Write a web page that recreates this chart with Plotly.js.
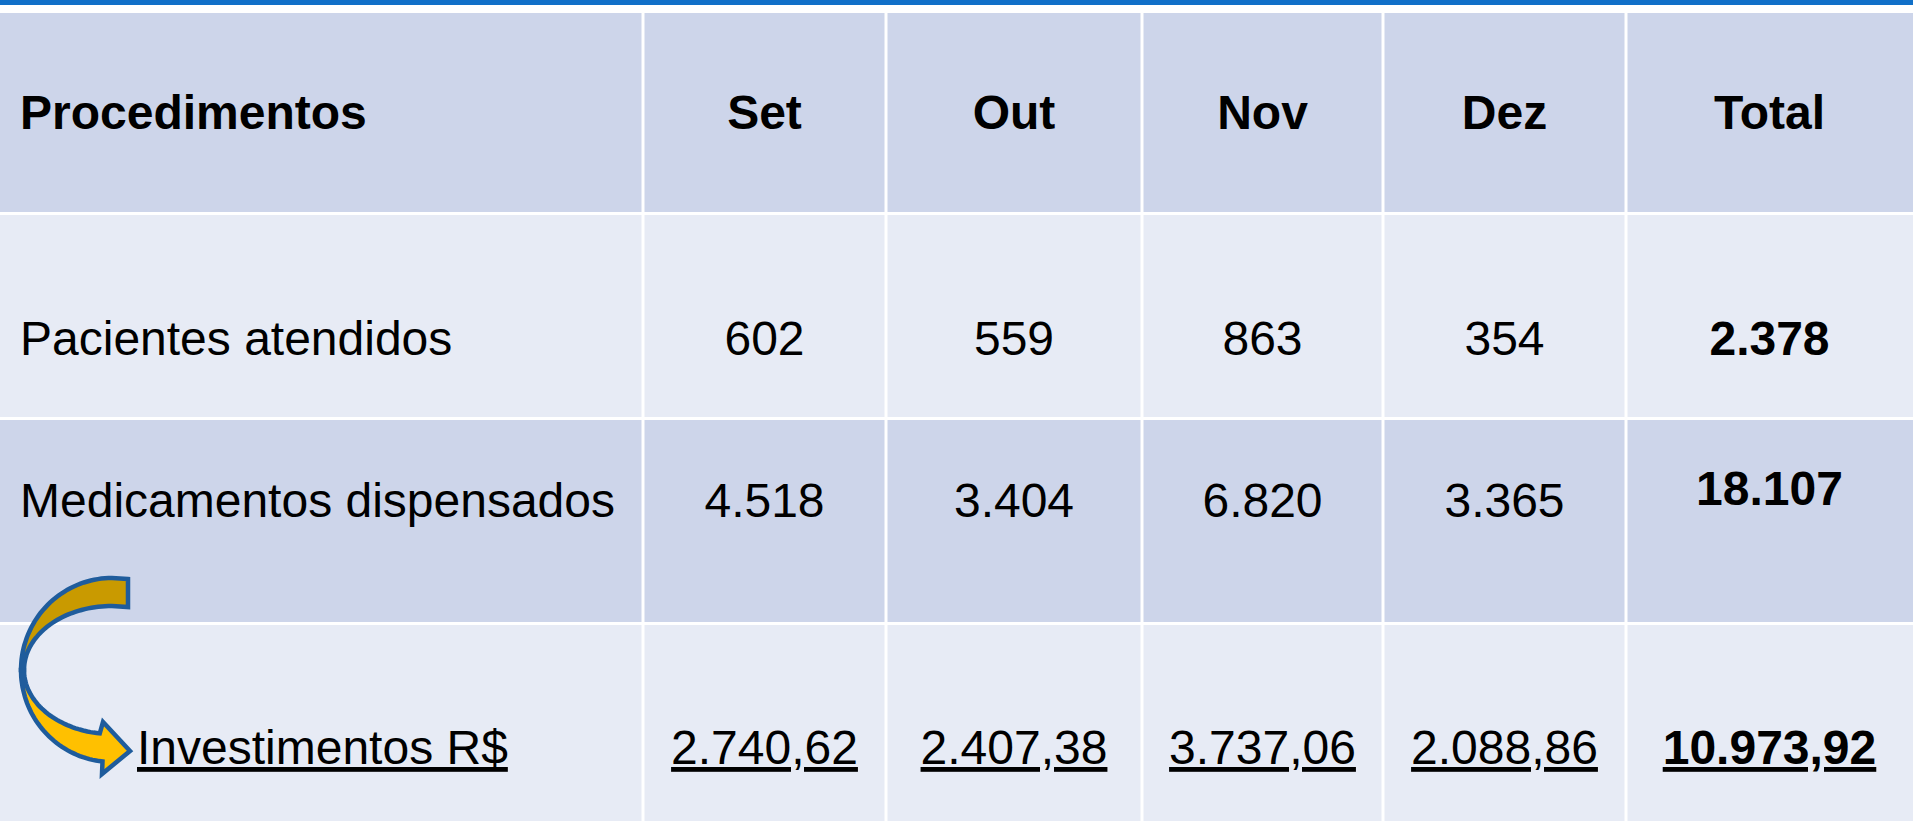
<!DOCTYPE html>
<html>
<head>
<meta charset="utf-8">
<script src="https://cdn.plot.ly/plotly-3.0.1.min.js"></script>
<style>
  html, body { margin: 0; padding: 0; background: #ffffff; }
  #chart { width: 1913px; height: 821px; }
  #chart text, #chart tspan { text-decoration-skip-ink: none; }
</style>
</head>
<body>
<div id="chart"></div>
<script>
// ---------- data ----------
const headerLabel = 'Procedimentos';
const months = ['Set', 'Out', 'Nov', 'Dez'];
const totalLabel = 'Total';
const rowLabels = ['Pacientes atendidos', 'Medicamentos dispensados', 'Investimentos R$'];
const setVals = ['602', '4.518', '2.740,62'];
const outVals = ['559', '3.404', '2.407,38'];
const novVals = ['863', '6.820', '3.737,06'];
const dezVals = ['354', '3.365', '2.088,86'];
const totalVals = ['2.378', '18.107', '10.973,92'];

// ---------- layout constants ----------
const W = 1913, H = 821;
const colEdges = [0, 643, 886, 1142, 1383, 1626, W];
const rowEdges = [13, 213.5, 418.5, 623.5, H + 5];
const gap = 3;
const rowFills = ['#CDD5EA', '#E7EBF5', '#CDD5EA', '#E7EBF5'];
const textY = [117, 343, 505, 752];
const totalYShift = [0, 0, -12, 0];
const labelX = [20, 20, 20, 137];
const FONT = 'Liberation Sans, Arial, Helvetica, sans-serif';

const shapes = [];
// top blue band
shapes.push({type: 'rect', xref: 'x', yref: 'y', x0: 0, x1: W, y0: 0, y1: 5,
  fillcolor: '#1170C8', line: {width: 0}, layer: 'below'});
// cells
for (let r = 0; r < rowEdges.length - 1; r++) {
  for (let c = 0; c < colEdges.length - 1; c++) {
    const x0 = colEdges[c] + (c > 0 ? gap / 2 : 0);
    const x1 = colEdges[c + 1] - (c < colEdges.length - 2 ? gap / 2 : 0);
    const y0 = rowEdges[r] + (r > 0 ? gap / 2 : 0);
    const y1 = rowEdges[r + 1] - (r < rowEdges.length - 2 ? gap / 2 : 0);
    shapes.push({type: 'rect', xref: 'x', yref: 'y', x0, x1, y0, y1,
      fillcolor: rowFills[r], line: {width: 0}, layer: 'below'});
  }
}

// curved arrow decoration
function arc(cx, cy, rx, ry, a0, a1, n) {
  const pts = [];
  for (let i = 0; i <= n; i++) {
    const a = (a0 + (a1 - a0) * i / n) * Math.PI / 180;
    pts.push([cx + rx * Math.cos(a), cy + ry * Math.sin(a)]);
  }
  return pts;
}
function toPath(pts) {
  return 'M ' + pts.map(p => p[0].toFixed(1) + ',' + p[1].toFixed(1)).join(' L ') + ' Z';
}
const E1 = {cx: 112, cy: 670, rx: 91, ry: 92};
const E2 = {cx: 112, cy: 670, rx: 88, ry: 64};
// upper dark band
let upper = [[128, 579]];
upper = upper.concat(arc(E1.cx, E1.cy, E1.rx, E1.ry, -90, -180, 40));
upper = upper.concat(arc(E2.cx, E2.cy, E2.rx, E2.ry, -180, -90, 40));
upper.push([128, 607]);
// lower yellow band with head
let lower = arc(E1.cx, E1.cy, E1.rx, E1.ry, 180, 96, 40);
lower.push([102, 774]);
lower.push([130, 751]);
lower.push([103, 722]);
lower = lower.concat(arc(E2.cx, E2.cy, E2.rx, E2.ry, 98, 180, 40));
shapes.push({type: 'path', xref: 'x', yref: 'y', path: toPath(lower),
  fillcolor: '#FFC000', line: {color: '#1F5C9C', width: 4.5}, layer: 'below'});
shapes.push({type: 'path', xref: 'x', yref: 'y', path: toPath(upper),
  fillcolor: '#C99A00', line: {color: '#1F5C9C', width: 4.5}, layer: 'below'});

// ---------- text traces ----------
const colCenters = [];
for (let c = 1; c < colEdges.length - 1; c++) colCenters.push((colEdges[c] + colEdges[c + 1]) / 2);
const positions = ['middle right', 'middle center', 'middle center', 'middle center', 'middle center', 'middle center'];

const traces = [];
// header
const xs0 = [labelX[0]].concat(colCenters);
traces.push({
  type: 'scatter', mode: 'text', x: xs0,
  y: xs0.map(() => textY[0]),
  text: [headerLabel].concat(months, [totalLabel]).map(t => '<b>' + t + '</b>'),
  textposition: positions,
  textfont: {family: FONT, size: 48, color: '#000000'},
  hoverinfo: 'skip', showlegend: false, cliponaxis: false
});
for (let i = 0; i < rowLabels.length; i++) {
  const r = i + 1;
  const xs = [labelX[r]].concat(colCenters);
  const vals = [rowLabels[i], setVals[i], outVals[i], novVals[i], dezVals[i], '<b>' + totalVals[i] + '</b>'];
  const ys = xs.map((_, k) => textY[r] + (k === xs.length - 1 ? totalYShift[r] : 0));
  const font = {family: FONT, size: 48, color: '#000000'};
  if (i === rowLabels.length - 1) font.lineposition = 'under';
  traces.push({
    type: 'scatter', mode: 'text', x: xs, y: ys, text: vals,
    textposition: positions, textfont: font,
    hoverinfo: 'skip', showlegend: false, cliponaxis: false
  });
}

const layout = {
  width: W, height: H,
  margin: {l: 0, r: 0, t: 0, b: 0, pad: 0},
  paper_bgcolor: '#ffffff', plot_bgcolor: '#ffffff',
  xaxis: {range: [0, W], visible: false, fixedrange: true},
  yaxis: {range: [H, 0], visible: false, fixedrange: true},
  shapes: shapes,
  showlegend: false
};

Plotly.newPlot('chart', traces, layout, {displayModeBar: false, staticPlot: true});
</script>
</body>
</html>
